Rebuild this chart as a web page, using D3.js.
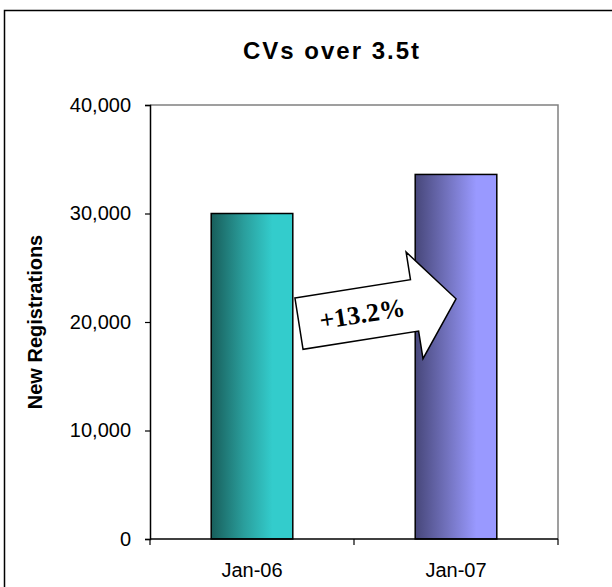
<!DOCTYPE html>
<html>
<head>
<meta charset="utf-8">
<script src="https://cdn.jsdelivr.net/npm/d3@7"></script>
<style>
  body { margin: 0; background: #fff; }
  text { font-family: "Liberation Sans", Arial, sans-serif; }
</style>
</head>
<body>
<div id="chart-area"></div>
<script>
// data
var categories = ["Jan-06", "Jan-07"];
var registrations = [30000, 33600];
var yTicks = [0, 10000, 20000, 30000, 40000];
var changeLabel = "+13.2%";

var W = 612, H = 587;
var margin = { left: 150, right: 54, top: 105, bottom: 48 };
var width = W - margin.left - margin.right;
var height = H - margin.top - margin.bottom;

var svg = d3.select("#chart-area").append("svg")
    .attr("width", W)
    .attr("height", H);

// outer frame
svg.append("rect")
    .attr("x", 4.5).attr("y", 10.5)
    .attr("width", W).attr("height", H)
    .attr("fill", "none")
    .attr("stroke", "#000")
    .attr("stroke-width", 1.5);

// gradients
var defs = svg.append("defs");
var grads = [["#185e5b", "#2a9e9c", "#33cccc"], ["#47477a", "#7373bf", "#9999ff"]];
grads.forEach(function(c, i){
    var g = defs.append("linearGradient")
        .attr("id", "grad" + i)
        .attr("x1", "0%").attr("x2", "100%").attr("y1", "0%").attr("y2", "0%");
    g.append("stop").attr("offset", "0%").attr("stop-color", c[0]);
    g.append("stop").attr("offset", "40%").attr("stop-color", c[1]);
    g.append("stop").attr("offset", "75%").attr("stop-color", c[2]);
    g.append("stop").attr("offset", "100%").attr("stop-color", c[2]);
});

var g = svg.append("g")
    .attr("transform", "translate(" + margin.left + "," + margin.top + ")");

var x = d3.scaleBand()
    .domain(categories)
    .range([0, width])
    .paddingInner(0.6)
    .paddingOuter(0.3);

var y = d3.scaleLinear()
    .domain([0, 40000])
    .range([height, 0]);

// plot area border (grey top + right)
g.append("path")
    .attr("d", "M0," + y(40000) + "H" + width + "V" + height)
    .attr("fill", "none")
    .attr("stroke", "#808080")
    .attr("stroke-width", 1.5);

// bars
g.selectAll("rect.bar")
    .data(registrations)
    .enter().append("rect")
    .attr("class", "bar")
    .attr("x", function(d, i){ return x(categories[i]); })
    .attr("y", function(d){ return y(d); })
    .attr("width", x.bandwidth())
    .attr("height", function(d){ return height - y(d); })
    .attr("fill", function(d, i){ return "url(#grad" + i + ")"; })
    .attr("stroke", "#000")
    .attr("stroke-width", 1.5);

// y axis
var yAxis = g.append("g")
    .call(d3.axisLeft(y).tickValues(yTicks).tickSize(5).tickPadding(14).tickFormat(d3.format(",")));
yAxis.selectAll("text").attr("font-size", "20px").attr("fill", "#000")
    .style("font-family", "'Liberation Sans', Arial, sans-serif");
yAxis.select(".domain").attr("stroke-width", 1.5);
yAxis.selectAll(".tick line").attr("stroke-width", 1.2);

// x axis: ticks at band boundaries
var bounds = [0, width / 2, width];
var xAxis = g.append("g").attr("transform", "translate(0," + height + ")");
xAxis.append("line")
    .attr("x1", 0).attr("x2", width)
    .attr("stroke", "#000").attr("stroke-width", 1.5);
xAxis.selectAll("line.tk").data(bounds).enter().append("line")
    .attr("class", "tk")
    .attr("x1", function(d){ return d; }).attr("x2", function(d){ return d; })
    .attr("y1", 0).attr("y2", 6)
    .attr("stroke", "#000").attr("stroke-width", 1.2);
xAxis.selectAll("text").data(categories).enter().append("text")
    .attr("x", function(d){ return x(d) + x.bandwidth() / 2; })
    .attr("y", 38)
    .attr("text-anchor", "middle")
    .attr("font-size", "20px")
    .text(function(d){ return d; });

// title
svg.append("text")
    .attr("x", 243)
    .attr("y", 59)
    .attr("text-anchor", "start")
    .attr("font-size", "24px")
    .attr("font-weight", "bold")
    .attr("letter-spacing", "2px")
    .text("CVs over 3.5t");

// y title
svg.append("text")
    .attr("transform", "translate(42," + (margin.top + height / 2) + ") rotate(-90)")
    .attr("text-anchor", "middle")
    .attr("font-size", "20px")
    .attr("font-weight", "bold")
    .text("New Registrations");

// change arrow between the bars
var ax = (x(categories[0]) + x.bandwidth() + x(categories[1])) / 2 + 24;
var ay = y(21000);
var arrow = g.append("g")
    .attr("transform", "translate(" + ax + "," + ay + ") rotate(-9)");
var pts = [[-80, -26], [37, -26], [37, -54], [79, 0], [37, 54], [37, 26], [-80, 26]];
arrow.append("polygon")
    .attr("points", pts.map(function(p){ return p.join(","); }).join(" "))
    .attr("fill", "#fff")
    .attr("stroke", "#000")
    .attr("stroke-width", 1.5);
arrow.append("text")
    .attr("x", -16)
    .attr("y", 9)
    .attr("text-anchor", "middle")
    .attr("font-size", "26px")
    .attr("font-weight", "bold")
    .style("font-family", "'Liberation Serif', 'Times New Roman', serif")
    .text(changeLabel);
</script>
</body>
</html>
